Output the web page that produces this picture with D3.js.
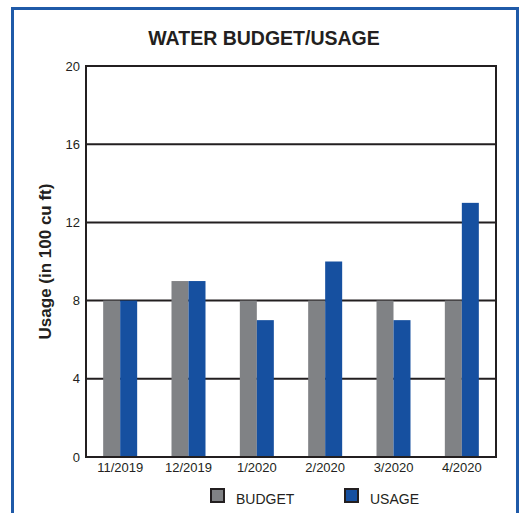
<!DOCTYPE html>
<head>
  <meta charset="utf-8">
  <style>
    body { margin: 0; background: #fff; }
    text { font-family: 'Liberation Sans', Arial, sans-serif; fill: #231f20; }
  </style>
</head>
<body>
  <script src="https://cdn.jsdelivr.net/npm/d3@7"></script>
  <script>
    // chart data
    const months = ["11/2019", "12/2019", "1/2020", "2/2020", "3/2020", "4/2020"];
    const budget = [8, 9, 8, 8, 8, 8];
    const usage = [8, 9, 7, 10, 7, 13];
    const yTicks = [0, 4, 8, 12, 16, 20];
    const seriesNames = ["BUDGET", "USAGE"];
    const seriesColors = ["#808285", "#1650a0"];

    const width = 526, height = 513;
    const plot = {left: 86, right: 496, top: 66, bottom: 457};

    const svg = d3.select("body").append("svg")
      .attr("width", width)
      .attr("height", height);

    // blue frame around the chart
    svg.append("path")
      .attr("d", "M12.5," + height + " V8.5 H517.5 V" + height)
      .attr("fill", "none")
      .attr("stroke", "#1f5aa8")
      .attr("stroke-width", 3);

    svg.append("text")
      .attr("x", 264).attr("y", 45)
      .attr("text-anchor", "middle")
      .style("font-size", "19.5px")
      .style("font-weight", "bold")
      .text("WATER BUDGET/USAGE");

    const x = d3.scaleBand().domain(months).range([plot.left, plot.right]);
    const y = d3.scaleLinear().domain([0, 20]).range([plot.bottom, plot.top]);

    // gridlines
    svg.append("g").selectAll("line")
      .data(yTicks.filter(d => d > 0 && d < 20)).enter().append("line")
      .attr("x1", plot.left).attr("x2", plot.right)
      .attr("y1", d => y(d)).attr("y2", d => y(d))
      .attr("stroke", "#231f20").attr("stroke-width", 2);

    // bars
    const barW = 17;
    const groups = svg.append("g").selectAll("g")
      .data(months).enter().append("g");
    groups.append("rect")
      .attr("x", (d, i) => x(d) + x.bandwidth() / 2 - barW)
      .attr("y", (d, i) => y(budget[i]))
      .attr("width", barW)
      .attr("height", (d, i) => y(0) - y(budget[i]))
      .attr("fill", seriesColors[0]);
    groups.append("rect")
      .attr("x", (d, i) => x(d) + x.bandwidth() / 2)
      .attr("y", (d, i) => y(usage[i]))
      .attr("width", barW)
      .attr("height", (d, i) => y(0) - y(usage[i]))
      .attr("fill", seriesColors[1]);

    // plot frame
    svg.append("rect")
      .attr("x", plot.left).attr("y", plot.top)
      .attr("width", plot.right - plot.left)
      .attr("height", plot.bottom - plot.top)
      .attr("fill", "none")
      .attr("stroke", "#231f20").attr("stroke-width", 2);

    // axes
    const yAxis = d3.axisLeft(y).tickValues(yTicks).tickSize(0).tickPadding(6);
    svg.append("g")
      .attr("transform", "translate(" + plot.left + ",0)")
      .call(yAxis)
      .call(g => g.select(".domain").remove())
      .selectAll("text")
      .style("font-size", "13px")
      .style("font-family", "'Liberation Sans', Arial, sans-serif")
      .attr("fill", "#231f20");

    const xAxis = d3.axisBottom(x).tickSize(0).tickPadding(6);
    svg.append("g")
      .attr("transform", "translate(0," + plot.bottom + ")")
      .call(xAxis)
      .call(g => g.select(".domain").remove())
      .selectAll("text")
      .style("font-size", "13px")
      .style("font-family", "'Liberation Sans', Arial, sans-serif")
      .attr("fill", "#231f20");

    svg.append("text")
      .attr("transform", "translate(51," + ((plot.top + plot.bottom) / 2) + ") rotate(-90)")
      .attr("text-anchor", "middle")
      .style("font-size", "17px")
      .style("font-weight", "bold")
      .text("Usage (in 100 cu ft)");

    // legend
    const legendX = [210, 344];
    const legend = svg.append("g").selectAll("g")
      .data(seriesNames).enter().append("g")
      .attr("transform", (d, i) => "translate(" + legendX[i] + ",488)");
    legend.append("rect")
      .attr("x", 1).attr("y", 1)
      .attr("width", 13).attr("height", 13)
      .attr("fill", (d, i) => seriesColors[i])
      .attr("stroke", "#231f20").attr("stroke-width", 2);
    legend.append("text")
      .attr("x", 26).attr("y", 16)
      .style("font-size", "14px")
      .text(d => d);
  </script>
</body>
